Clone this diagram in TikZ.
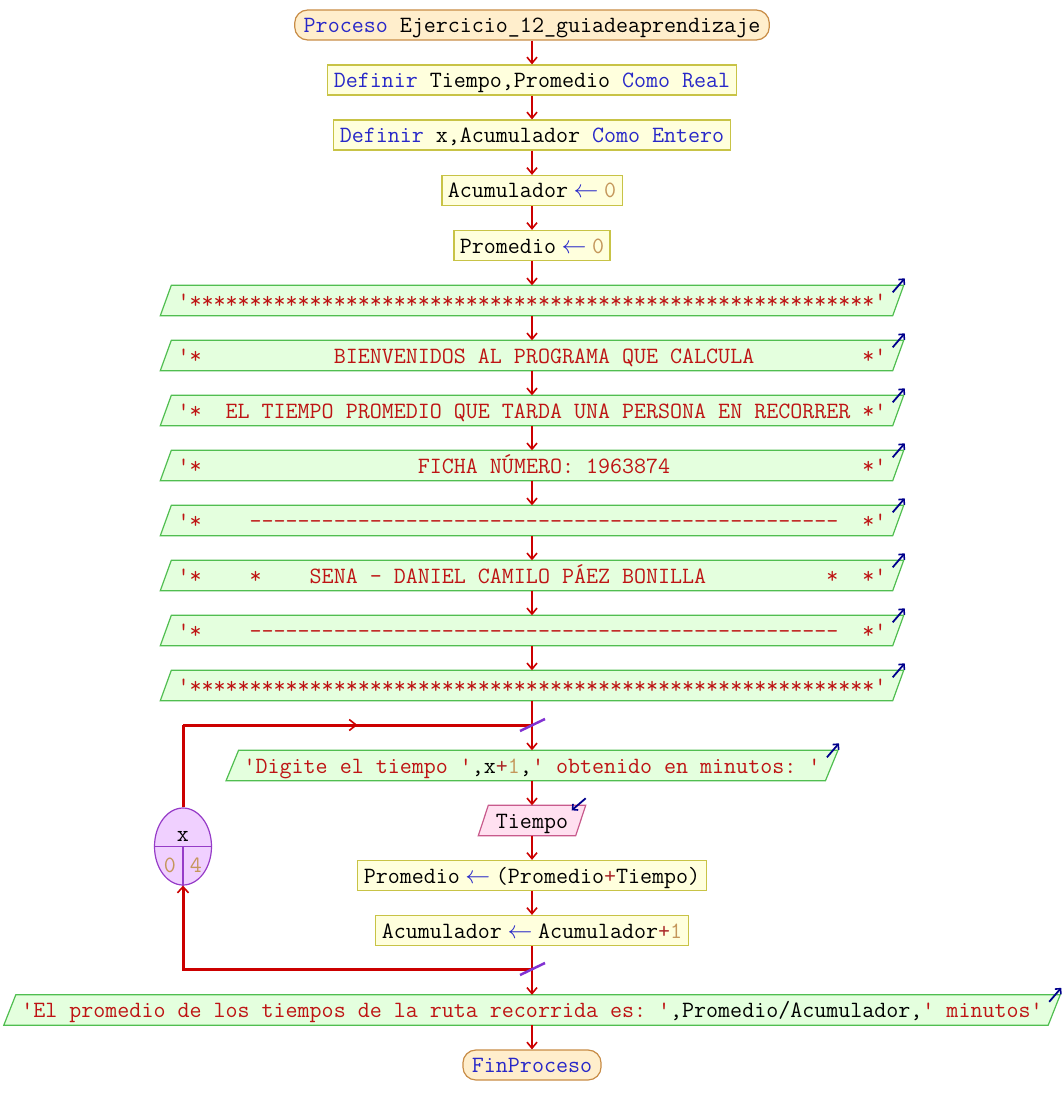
\documentclass[tikz,border=0pt]{standalone}
\usepackage{fontspec}
\usetikzlibrary{arrows.meta,shapes.geometric,decorations.markings}

% palette
\definecolor{flowred}{RGB}{204,0,0}
\definecolor{kwblue}{RGB}{40,40,200}
\definecolor{strred}{RGB}{190,20,20}
\definecolor{numtan}{RGB}{196,150,90}
\definecolor{opred}{RGB}{170,40,40}
\definecolor{procfill}{RGB}{255,238,204}
\definecolor{procedge}{RGB}{200,140,70}
\definecolor{asgfill}{RGB}{255,255,221}
\definecolor{asgedge}{RGB}{200,195,70}
\definecolor{outfill}{RGB}{228,255,222}
\definecolor{outedge}{RGB}{80,190,80}
\definecolor{infill}{RGB}{255,224,240}
\definecolor{inedge}{RGB}{200,90,140}
\definecolor{loopfill}{RGB}{240,208,255}
\definecolor{loopedge}{RGB}{150,60,200}
\definecolor{slashc}{RGB}{130,50,210}
\definecolor{iconblue}{RGB}{0,0,140}

% pseudo-code highlighting (monospaced cells of about 12pt)
\newlength\cw
\newcommand\codefont{\ttfamily\fontsize{23.33}{27}\selectfont}
\newcommand\pkw[1]{\textcolor{kwblue}{#1}}
\newcommand\pstr[1]{\textcolor{strred}{#1}}
\newcommand\pnum[1]{\textcolor{numtan}{#1}}
\newcommand\pop[1]{\textcolor{opred}{#1}}
\newcommand\pasg{\makebox[3\cw]{\textcolor{kwblue}{$\leftarrow$}}}
\newcommand\psk[1]{\hspace*{#1\cw}}
\newcommand\prep[2]{\foreach \ii in {1,...,#1}{#2}}

\pgfdeclarelayer{background}
\pgfsetlayers{background,main}

\begin{document}
\frenchspacing
\settowidth{\cw}{\codefont 0}
\begin{tikzpicture}[x=1pt,y=-1pt,
  base/.style={font=\codefont, text height=16pt, text depth=1pt,
    minimum height=30pt, inner ysep=0pt},
  proc/.style={base, draw=procedge, fill=procfill, rounded corners=13pt, inner xsep=9pt, line width=1.2pt},
  asgn/.style={base, draw=asgedge, fill=asgfill, inner xsep=6pt, line width=1.2pt},
  io/.style={base, inner xsep=0pt},
  outshape/.style={draw=outedge, fill=outfill, line width=1.2pt},
  inshape/.style={draw=inedge, fill=infill, line width=1.2pt},
  flow/.style={draw=flowred, line width=1.6pt, -{Straight Barb[length=6pt,width=10pt,line width=1.6pt]}},
  loopln/.style={draw=flowred, line width=3pt},
  midarr/.style={postaction={decorate}, decoration={markings,
    mark=at position 0.5 with {\arrow{Straight Barb[length=7pt,width=11pt,line width=1.6pt]}}}},
  icon/.style={draw=iconblue, line width=1.8pt, -{Straight Barb[length=4pt,width=8pt,line width=1.6pt]}},
  slash/.style={draw=slashc, line width=2.5pt},
  lbl/.style={font=\codefont, inner sep=0pt, anchor=base}
]
\begin{pgfonlayer}{background}
  \fill[white] (0,0) rectangle (1064,1115);
\end{pgfonlayer}
\useasboundingbox (0,0) rectangle (1064,1115);

% process steps
\node[proc] (p0) at (532,25) {\pkw{Proceso} Ejercicio\_12\_guiadeaprendizaje};
\node[asgn] (d1) at (532,80) {\pkw{Definir} Tiempo,Promedio \pkw{Como} \pkw{Real}};
\node[asgn] (d2) at (532,135) {\pkw{Definir} x,Acumulador \pkw{Como} \pkw{Entero}};
\node[asgn] (a1) at (532,190.5) {Acumulador\pasg\pnum{0}};
\node[asgn] (a2) at (532,245.5) {Promedio\pasg\pnum{0}};

% banner output lines
\node[io, minimum width=732pt] (o1) at (532,300.5) {\pstr{'\prep{57}{*}'}};
\node[io, minimum width=732pt] (o2) at (532,355.5) {\pstr{'*\psk{11}BIENVENIDOS AL PROGRAMA QUE CALCULA\psk{9}*'}};
\node[io, minimum width=732pt] (o3) at (532,410.5) {\pstr{'*\psk{2}EL TIEMPO PROMEDIO QUE TARDA UNA PERSONA EN RECORRER\psk{1}*'}};
\node[io, minimum width=732pt] (o4) at (532,465.5) {\pstr{'*\psk{18}FICHA NÚMERO: 1963874\psk{16}*'}};
\node[io, minimum width=732pt] (o5) at (532,520.5) {\pstr{'*\psk{4}\prep{49}{-}\psk{2}*'}};
\node[io, minimum width=732pt] (o6) at (532,575.5) {\pstr{'*\psk{4}*\psk{4}SENA - DANIEL CAMILO PÁEZ BONILLA\psk{10}*\psk{2}*'}};
\node[io, minimum width=732pt] (o7) at (532,630.5) {\pstr{'*\psk{4}\prep{49}{-}\psk{2}*'}};
\node[io, minimum width=732pt] (o8) at (532,685.5) {\pstr{'\prep{57}{*}'}};

% loop body
\node[io, minimum width=599pt] (dig) at (532,765.5) {\pstr{'Digite el tiempo '},x\pop{+}\pnum{1},\pstr{' obtenido en minutos: '}};
\node[io, minimum width=97pt] (tin) at (532,820.5) {Tiempo};
\node[asgn] (s1) at (532,875.5) {Promedio\pasg(Promedio\pop{+}Tiempo)};
\node[asgn] (s2) at (532,930.5) {Acumulador\pasg Acumulador\pop{+}\pnum{1}};

% result and end
\node[io, minimum width=1044pt] (out) at (532,1010) {\pstr{'El promedio de los tiempos de la ruta recorrida es: '},Promedio/Acumulador,\pstr{' minutos'}};
\node[proc] (fin) at (532,1065) {\pkw{FinProceso}};

% parallelogram outlines for input/output steps
\begin{pgfonlayer}{background}
  \foreach \n/\s in {o1/5.5,o2/5.5,o3/5.5,o4/5.5,o5/5.5,o6/5.5,o7/5.5,o8/5.5,dig/6.25,out/6}
    \draw[outshape] ([xshift=-\s pt]\n.south west) -- ([xshift=-\s pt]\n.south east)
      -- ([xshift=\s pt]\n.north east) -- ([xshift=\s pt]\n.north west) -- cycle;
  \draw[inshape] ([xshift=-5pt]tin.south west) -- ([xshift=-5pt]tin.south east)
      -- ([xshift=5pt]tin.north east) -- ([xshift=5pt]tin.north west) -- cycle;
\end{pgfonlayer}

% write / read markers
\foreach \n/\s in {o1/5.5,o2/5.5,o3/5.5,o4/5.5,o5/5.5,o6/5.5,o7/5.5,o8/5.5,dig/6.25,out/6}
  \draw[icon] ([shift={(\s-11,7)}]\n.north east) -- ([shift={(\s+1,-7)}]\n.north east);
\draw[icon] ([shift={(5,-7)}]tin.north east) -- ([shift={(-9,5)}]tin.north east);

% sequence connectors
\foreach \a/\b in {p0/d1,d1/d2,d2/a1,a1/a2,a2/o1,o1/o2,o2/o3,o3/o4,o4/o5,o5/o6,o6/o7,o7/o8,
                   o8/dig,dig/tin,tin/s1,s1/s2,s2/out,out/fin}
  \draw[flow] (\a) -- (\b);

% counting loop "Para x"
\node[ellipse, draw=loopedge, fill=loopfill, line width=1.2pt, minimum width=57pt,
      minimum height=77pt, inner sep=0pt] (lp) at (183,846.5) {};
\draw[loopedge, line width=1.2pt] (lp.west) -- (lp.east);
\draw[loopedge, line width=1.2pt] (lp.center) -- (lp.south);
\node[lbl] (lpv) at (183,841) {x};
\node[lbl] (lpa) at (170,872) {\pnum{0}};
\node[lbl] (lpb) at (196,872) {\pnum{4}};

\coordinate (jt) at (532,725);
\coordinate (jb) at (532,969);
\draw[loopln] (lp.north) -- (lp.north |- jt);
\draw[loopln, midarr] (lp.north |- jt) -- (jt);
\draw[loopln, -{Straight Barb[length=6pt,width=11pt,line width=1.6pt]}] (jb) -| (lp.south);
\draw[slash] ([shift={(-12,6)}]jt) -- ([shift={(13,-6)}]jt);
\draw[slash] ([shift={(-12,6)}]jb) -- ([shift={(13,-6)}]jb);
\end{tikzpicture}
\end{document}
